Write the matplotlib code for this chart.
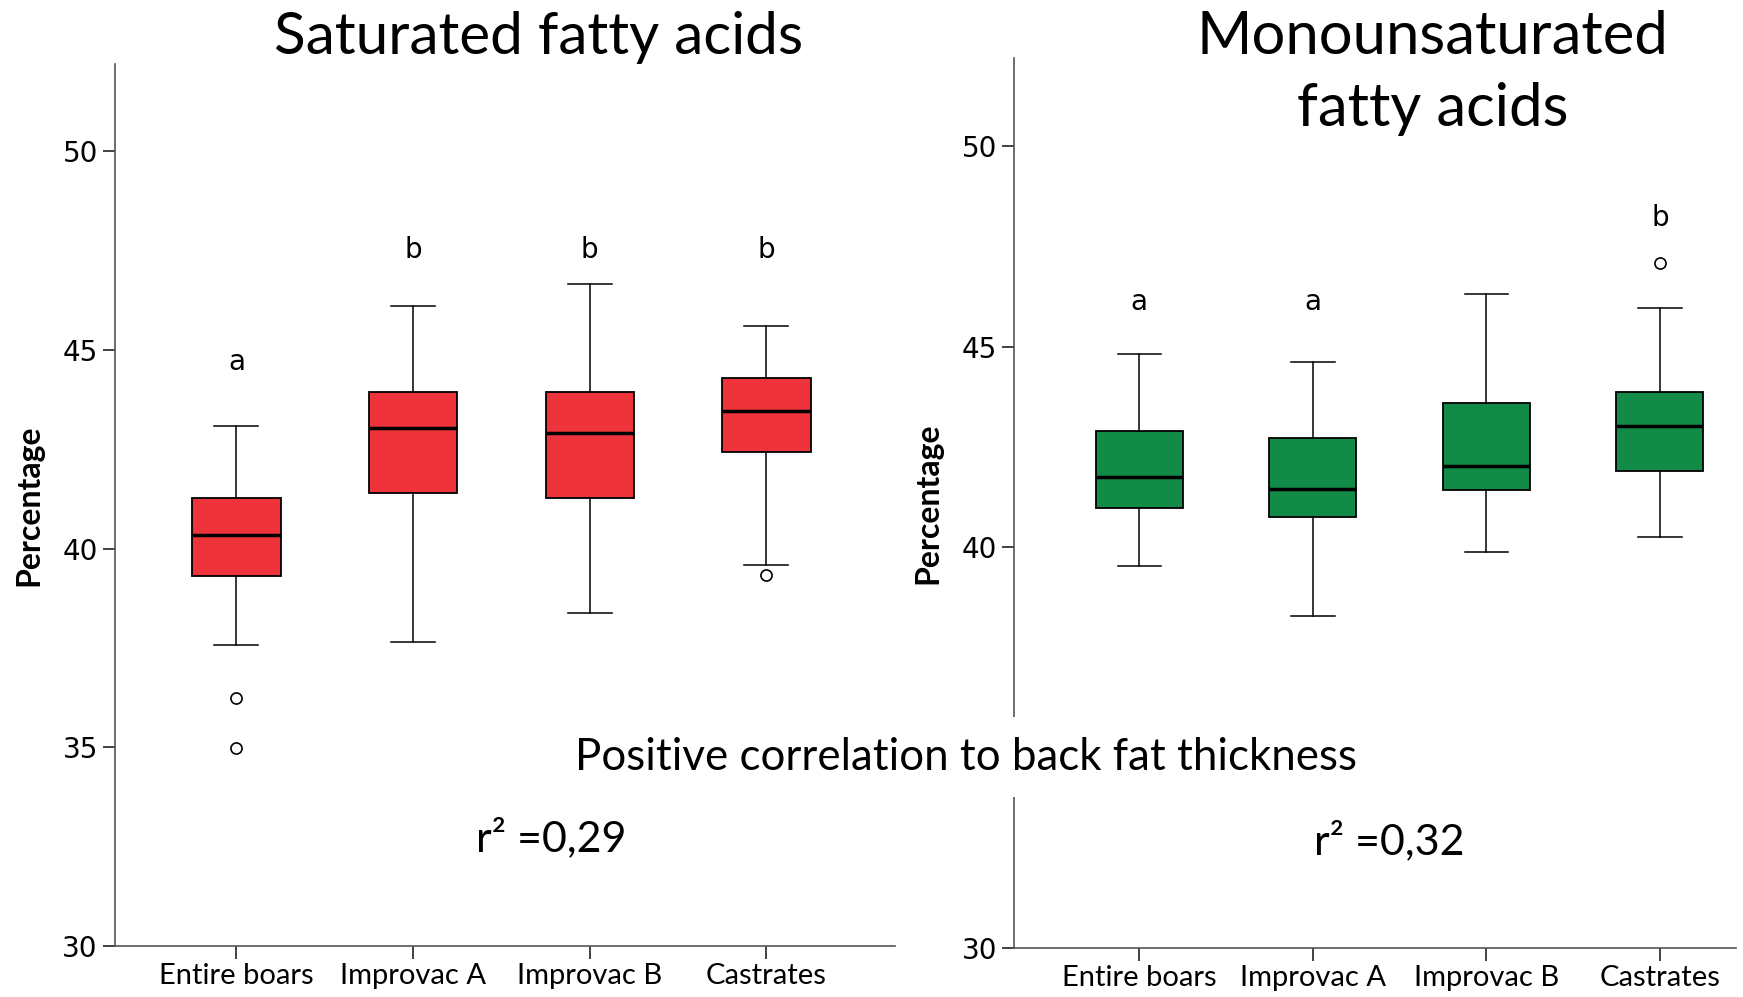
import matplotlib.pyplot as plt

# Categorías
groups = ["Entire boars", "Improvac A", "Improvac B", "Castrates"]

# Ácidos grasos saturados
sfa_whislo = [37.57, 37.65, 38.38, 39.58]
sfa_q1 = [39.30, 41.40, 41.28, 42.43]
sfa_med = [40.34, 43.02, 42.90, 43.46]
sfa_q3 = [41.28, 43.94, 43.94, 44.30]
sfa_whishi = [43.07, 46.09, 46.65, 45.59]
sfa_fliers = [[36.23, 34.97], [], [], [39.33]]
sfa_letters = ["a", "b", "b", "b"]
sfa_letter_y = [44.7, 47.5, 47.5, 47.5]

# Ácidos grasos monoinsaturados
mufa_whislo = [39.54, 38.27, 39.88, 40.26]
mufa_q1 = [40.98, 40.76, 41.43, 41.90]
mufa_med = [41.76, 41.46, 42.01, 43.01]
mufa_q3 = [42.90, 42.73, 43.59, 43.87]
mufa_whishi = [44.81, 44.62, 46.31, 45.95]
mufa_fliers = [[], [], [], [47.09]]
mufa_letters = ["a", "a", "", "b"]
mufa_letter_y = [46.1, 46.1, 46.1, 48.2]

r2_values = ["0,29", "0,32"]

TXT = "Lato"


def make_stats(whislo, q1, med, q3, whishi, fliers):
    stats = []
    for i in range(len(groups)):
        stats.append(dict(whislo=whislo[i], q1=q1[i], med=med[i], q3=q3[i],
                          whishi=whishi[i], fliers=fliers[i], label=groups[i]))
    return stats


def draw_panel(ax, stats, color, letters, letter_y, xlim, yticks):
    ax.bxp(stats, positions=range(1, 5), widths=0.5, patch_artist=True,
           boxprops=dict(facecolor=color, edgecolor="black", linewidth=1.3),
           medianprops=dict(color="black", linewidth=2.5),
           whiskerprops=dict(color="black", linewidth=1.1),
           capprops=dict(color="black", linewidth=1.1),
           capwidths=0.25,
           flierprops=dict(marker="o", markerfacecolor="white",
                           markeredgecolor="black", markersize=8, markeredgewidth=1.2))
    for i, (lab, y) in enumerate(zip(letters, letter_y)):
        if lab:
            ax.text(i + 1, y, lab, ha="center", va="center", fontsize=20, family="DejaVu Sans")
    ax.set_xlim(*xlim)
    ax.set_ylim(30, 52.2)
    ax.set_yticks(yticks)
    ax.set_xticks(range(1, 5))
    ax.set_xticklabels(groups, family=TXT, fontsize=21)
    for t in ax.get_yticklabels():
        t.set_family("DejaVu Sans")
        t.set_fontsize(20)
    ax.spines["top"].set_visible(False)
    ax.spines["right"].set_visible(False)
    for s in ("left", "bottom"):
        ax.spines[s].set_color("#555555")
        ax.spines[s].set_linewidth(1.2)
    ax.tick_params(axis="both", length=9, width=1.2, color="#222222", pad=3)
    ax.set_ylabel("Percentage", fontsize=23, fontweight="bold", family=TXT, labelpad=14)


fig = plt.figure(figsize=(17.43, 9.97), dpi=100)

ax1 = fig.add_axes([0.0657, 0.0512, 0.448, 0.885])
draw_panel(ax1, make_stats(sfa_whislo, sfa_q1, sfa_med, sfa_q3, sfa_whishi, sfa_fliers),
           "#EF333A", sfa_letters, sfa_letter_y, (0.31, 4.73), [30, 35, 40, 45, 50])

ax2 = fig.add_axes([0.5816, 0.049, 0.4145, 0.893])
draw_panel(ax2, make_stats(mufa_whislo, mufa_q1, mufa_med, mufa_q3, mufa_whishi, mufa_fliers),
           "#128A48", mufa_letters, mufa_letter_y, (0.276, 4.44), [30, 40, 45, 50])

# Títulos
fig.text(0.309, 0.962, "Saturated fatty acids", ha="center", va="center",
         fontsize=42, family=TXT)
fig.text(0.822, 0.927, "Monounsaturated\nfatty acids", ha="center", va="center",
         fontsize=43, family=TXT, linespacing=1.42)

# Correlación (con fondo blanco que tapa el eje)
fig.text(0.554, 0.2407, "Positive correlation to back fat thickness", ha="center",
         va="center", fontsize=31.6, family=TXT,
         bbox=dict(facecolor="white", edgecolor="none", pad=14))
fig.text(0.316, 0.160, "r² =" + r2_values[0], ha="center", va="center",
         fontsize=31, family=TXT)
fig.text(0.797, 0.157, "r² =" + r2_values[1], ha="center", va="center",
         fontsize=31, family=TXT)

fig.savefig("out.png", dpi=100, facecolor="white")
